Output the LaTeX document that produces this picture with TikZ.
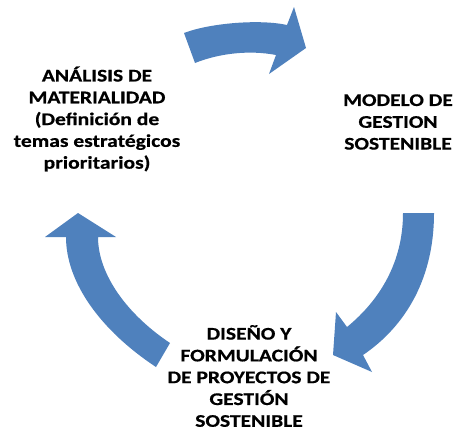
\documentclass[tikz,border=0pt]{standalone}
\usepackage{fontspec}
\setmainfont{Carlito}
\newfontfamily\lblfont[FakeStretch=1.21,FakeBold=0.6]{Carlito}
\definecolor{arrowblue}{HTML}{4F81BD}
\tikzset{
  blockarrow/.style={fill=arrowblue, draw=none},
  label/.style={align=center, inner sep=0pt, text=black,
    font=\lblfont\fontsize{17.8}{21.8}\selectfont\bfseries}
}
\begin{document}
\begin{tikzpicture}[x=1pt,y=-1pt]
\useasboundingbox[fill=white] (0,0) rectangle (454,434);
% top arrow
\path[blockarrow] (184,33) .. controls (210,23) and (260,19) .. (287,25)
  -- (294,7) -- (306,48) -- (269,74) -- (276,55)
  .. controls (250,50) and (220,53) .. (195,63) -- cycle;
% right arrow
\path[blockarrow] (403,213) -- (434,213)
  .. controls (434,285) and (400,330) .. (363,355)
  -- (372,372) -- (333,355) -- (336,312) -- (347,327)
  .. controls (380,300) and (403,262) .. (403,213) -- cycle;
% left arrow
\path[blockarrow] (170,343) -- (156,367)
  .. controls (100,330) and (66,282) .. (66,237)
  -- (45,237) -- (78,213) -- (116,237) -- (98,237)
  .. controls (98,275) and (128,315) .. (170,343) -- cycle;
% labels
\node[label] (analisis) at (97,119) {ANÁLISIS DE\\MATERIALIDAD\\(Definición de\\temas estratégicos\\prioritarios)};
\node[label] (modelo) at (398,122) {MODELO DE\\GESTION\\SOSTENIBLE};
\node[label] (diseno) at (249,376) {DISEÑO Y\\FORMULACIÓN\\DE PROYECTOS DE\\GESTIÓN\\SOSTENIBLE};
\end{tikzpicture}
\end{document}
